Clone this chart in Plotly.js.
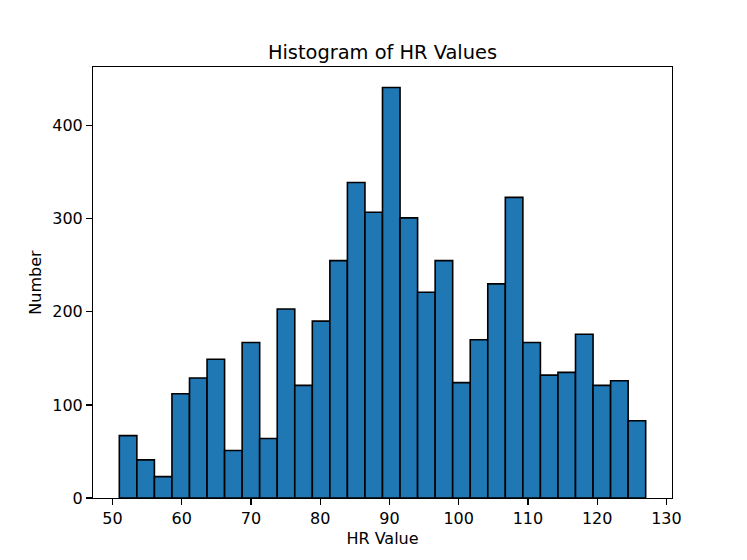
<!DOCTYPE html>
<html>
<head>
<meta charset="utf-8">
<script src="https://cdn.plot.ly/plotly-3.0.1.min.js"></script>
<style>html,body{margin:0;padding:0;background:#fff;}#chart{width:747px;height:560px;}</style>
</head>
<body>
<div id="chart"></div>
<script>
// Histogram data
const binStart = 51;
const binEnd = 127;
const counts = [67, 41, 23, 112, 129, 149, 51, 167, 64, 203,
                121, 190, 255, 339, 307, 441, 301, 221, 255, 124,
                170, 230, 323, 167, 132, 135, 176, 121, 126, 83];
const xTicks = [50, 60, 70, 80, 90, 100, 110, 120, 130];
const yTicks = [0, 100, 200, 300, 400];
const titleText = "Histogram of HR Values";
const xTitle = "HR Value";
const yTitle = "Number";

const binWidth = (binEnd - binStart) / counts.length;
const centers = counts.map((_, i) => binStart + binWidth * (i + 0.5));

const xPad = (binEnd - binStart) * 0.05;
const yMax = Math.max(...counts) * 1.05;

const font = "DejaVu Sans, sans-serif";
const trace = {
  type: "bar",
  x: centers,
  y: counts,
  width: counts.map(() => binWidth),
  marker: {color: "#1f77b4", line: {color: "#000000", width: 1.6}},
  hoverinfo: "x+y"
};

const axisCommon = {
  showline: true, mirror: true, linecolor: "#000", linewidth: 1.3,
  ticks: "outside", ticklen: 5.7, tickwidth: 1.3, tickcolor: "#000",
  showgrid: false, zeroline: false,
  tickfont: {family: font, size: 16, color: "#000"}
};

const layout = {
  width: 747, height: 560,
  paper_bgcolor: "#fff", plot_bgcolor: "#fff",
  margin: {l: 93.4, r: 74.7, t: 67.2, b: 61.6, pad: 0},
  showlegend: false,
  bargap: 0,
  title: {text: titleText, font: {family: font, size: 19.4, color: "#000"},
          x: 0.5, xanchor: "center", xref: "paper", y: 1, yref: "paper", yanchor: "bottom", pad: {b: 8}},
  xaxis: Object.assign({}, axisCommon, {
    range: [binStart - xPad, binEnd + xPad],
    tickvals: xTicks, ticktext: xTicks.map(String),
    title: {text: xTitle, font: {family: font, size: 16, color: "#000"}, standoff: 5}
  }),
  yaxis: Object.assign({}, axisCommon, {
    range: [0, yMax],
    tickvals: yTicks, ticktext: yTicks.map(String),
    title: {text: yTitle, font: {family: font, size: 16, color: "#000"}, standoff: 6}
  })
};

Plotly.newPlot("chart", [trace], layout, {staticPlot: true, displayModeBar: false});
</script>
</body>
</html>
